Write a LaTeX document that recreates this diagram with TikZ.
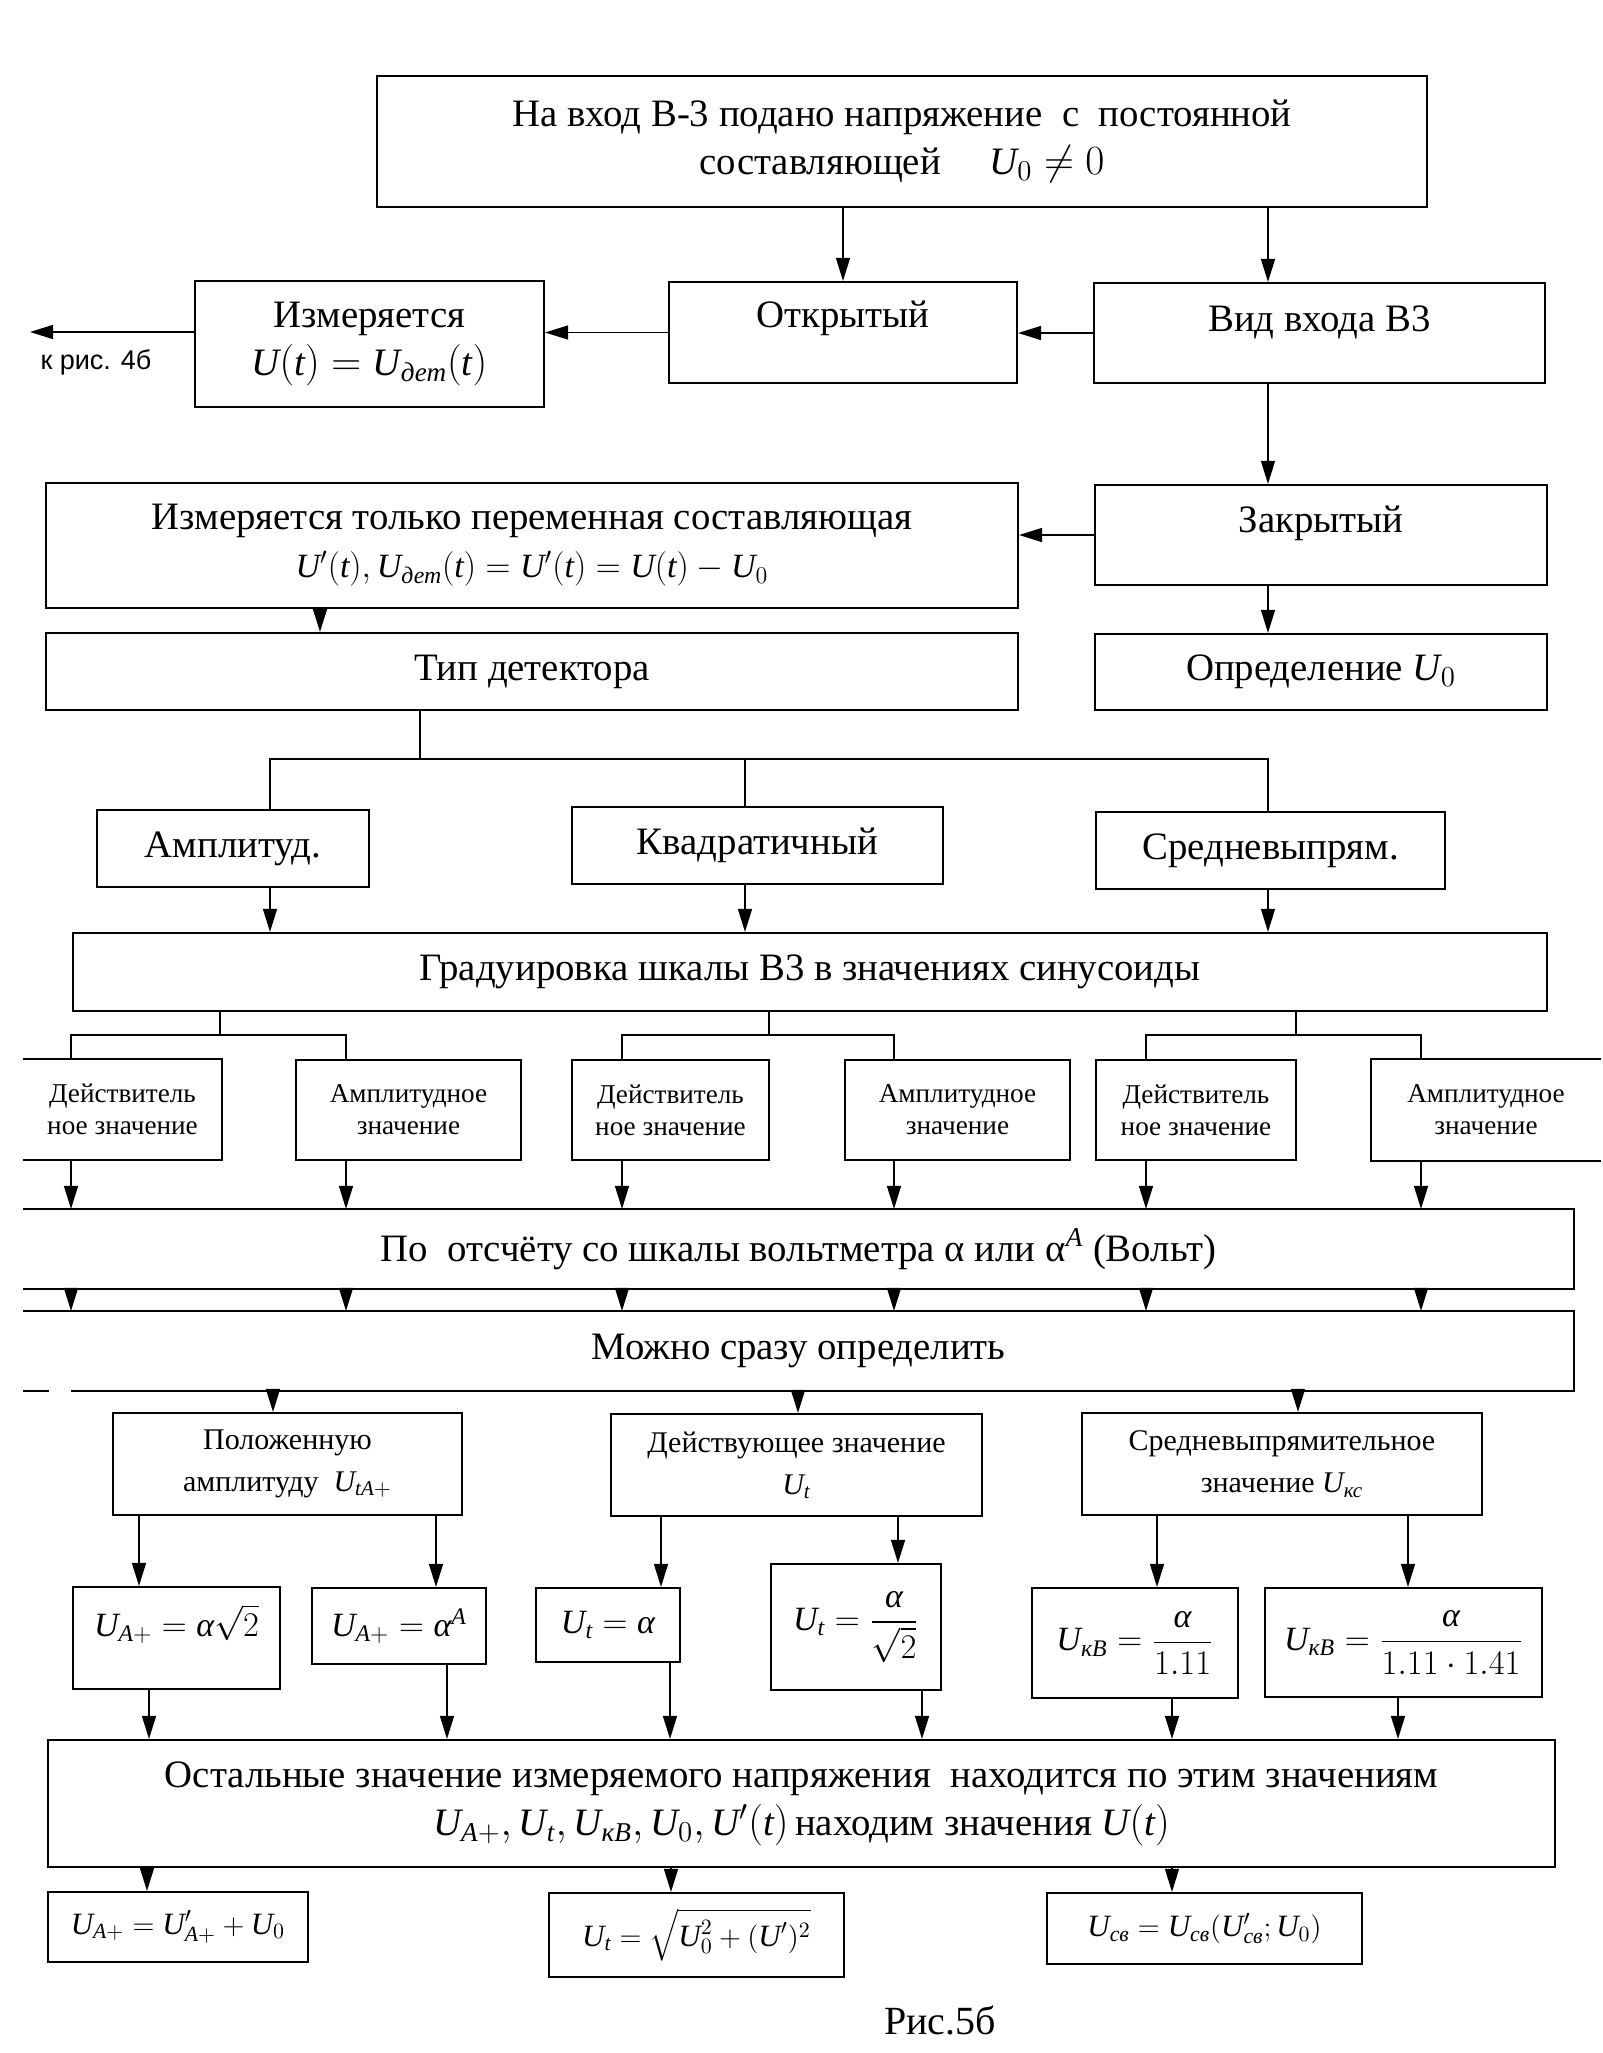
\documentclass[tikz,border=0pt]{standalone}
\usepackage{amsmath}
\usepackage{fontspec}
\setmainfont{Liberation Serif}
\setsansfont{Liberation Sans}
\usetikzlibrary{arrows.meta}
\newcommand\mi[1]{\text{\itshape #1}}
\newcommand\fbig{\fontsize{19.4}{24}\selectfont}
\newcommand\fmid{\fontsize{15}{21}\selectfont}
\newcommand\fsm{\fontsize{13.6}{16}\selectfont}
\newcommand\ffml{\fontsize{17}{21}\selectfont}
\newcommand\fbot{\fontsize{15.5}{19}\selectfont}
\newcommand\bxn[7][]{\node[box,#1,minimum width={(#5-#3)*0.5pt},minimum height={(#6-#4)*0.5pt}] (#2) at ({(#3+#5)/2},{(#4+#6)/2}) {#7};}
\begin{document}
\begin{tikzpicture}[x=0.5pt,y=-0.5pt,
  box/.style={draw,line width=1.1pt,inner sep=1pt,align=center,font=\fbig},
  arr/.style={line width=0.75pt,-{Triangle[length=11.5pt,width=7pt]}},
  ln/.style={line width=0.75pt},
  bord/.style={line width=1.1pt},
  tup/.style={text height=13pt,text depth=#1},
  nobox/.style={draw=none},
  fml/.style={font=\ffml},
  bot/.style={font=\fbot},
  small/.style={font=\fsm},
  mid/.style={font=\fmid}]
\fill[white] (0,0) rectangle (1594,2053);
% --- top part
\bxn{top}{377}{76}{1427}{207}{На вход В-3 подано напряжение \ с \ постоянной\\составляющей \quad $\mi{U}_0\neq 0$}
\bxn{izm}{195}{281}{544}{407}{Измеряется\\$\mi{U}(\mi{t})=\mi{U}_{\mi{дет}}(\mi{t})$}
\bxn[tup=18pt]{otkr}{669}{282}{1017}{383}{Открытый}
\bxn[tup=15pt]{vid}{1094}{283}{1545}{383}{Вид входа В3}
\bxn{only}{46}{483}{1018}{608}{Измеряется только переменная составляющая\\{\fontsize{17}{22}\selectfont$\mi{U}'(\mi{t}),\mi{U}_{\mi{дет}}(\mi{t})=\mi{U}'(\mi{t})=\mi{U}(\mi{t})-\mi{U}_0$}}
\bxn[tup=16pt]{zakr}{1095}{485}{1547}{585}{Закрытый}
\bxn{tip}{46}{633}{1018}{710}{Тип детектора}
\bxn{opr}{1095}{634}{1547}{710}{Определение $\mi{U}_0$}
\node[font=\sffamily\fontsize{13.5}{15}\selectfont] (kris) at (96,362) {к рис. 4б};
\coordinate (kr) at (30,332);
% detectors
\bxn{amp}{97}{810}{369}{887}{Амплитуд.}
\bxn{kv}{572}{807}{943}{884}{Квадратичный}
\bxn{sr}{1096}{812}{1445}{889}{Средневыпрям.}
\bxn{grad}{73}{933}{1547}{1011}{Градуировка шкалы В3 в значениях синусоиды}
% six boxes
\bxn[small,nobox]{b1}{24}{1060}{221}{1159}{Действитель\\ное значение}
\bxn[small]{b2}{296}{1060}{521}{1160}{Амплитудное\\значение}
\bxn[small]{b3}{572}{1060}{769}{1160}{Действитель\\ное значение}
\bxn[small]{b4}{845}{1060}{1070}{1160}{Амплитудное\\значение}
\bxn[small]{b5}{1096}{1060}{1296}{1160}{Действитель\\ное значение}
\bxn[small,nobox]{b6}{1372}{1060}{1600}{1160}{Амплитудное\\значение}
\draw[bord] (b1.north west) -- (b1.north east) -- (b1.south east) -- (b1.south west);
\draw[bord] (b6.north east) -- (b6.north west) -- (b6.south west) -- (b6.south east);
\bxn[nobox]{po}{24}{1210}{1573}{1288}{По \ отсчёту со шкалы вольтметра α или α$^{\mi{A}}$ (Вольт)}
\bxn[nobox]{mz}{24}{1312}{1573}{1390}{Можно сразу определить}
\draw[bord] (po.north west) -- (po.north east) -- (po.south east) -- (po.south west);
\draw[bord] (mz.north west) -- (mz.north east) -- (mz.south east) -- ([xshift=24pt]mz.south west);
\draw[bord] (mz.south west) -- ([xshift=13pt]mz.south west);
% three values
\bxn[mid]{pol}{113}{1413}{462}{1515}{Положенную\\амплитуду \ $\mi{U}_{\mi{tA}+}$}
\bxn[mid]{dei}{611}{1414}{982}{1516}{Действующее значение\\$\mi{U}_{\mi{t}}$}
\bxn[mid]{srv}{1082}{1413}{1482}{1515}{Средневыпрямительное\\значение $\mi{U}_{\mi{кс}}$}
% formulas
\bxn[fml,tup=15pt]{f1}{73}{1587}{280}{1689}{$\mi{U}_{\mi{A}+}=\mi{α}\sqrt{2}$}
\bxn[fml]{f2}{312}{1588}{486}{1664}{$\mi{U}_{\mi{A}+}=\mi{α}^{\mi{A}}$}
\bxn[fml]{f3}{536}{1588}{680}{1662}{$\mi{U}_{\mi{t}}=\mi{α}$}
\bxn[fml]{f4}{771}{1564}{941}{1690}{$\mi{U}_{\mi{t}}=\dfrac{\mi{α}}{\sqrt{2}}$}
\bxn[fml]{f5}{1032}{1588}{1238}{1698}{$\mi{U}_{\mi{кВ}}=\dfrac{\mi{α}}{1.11}$}
\bxn[fml]{f6}{1265}{1588}{1542}{1697}{$\mi{U}_{\mi{кВ}}=\dfrac{\mi{α}}{1.11\cdot 1.41}$}
\bxn{ost}{48}{1740}{1555}{1867}{Остальные значение измеряемого напряжения \ находится по этим значениям\\$\mi{U}_{\mi{A}+},\mi{U}_{\mi{t}},\mi{U}_{\mi{кВ}},\mi{U}_0,\mi{U}'(\mi{t})$\,находим значения $\mi{U}(\mi{t})$}
\bxn[bot]{g1}{48}{1892}{308}{1962}{$\mi{U}_{\mi{A}+}=\mi{U}'_{\mi{A}+}+\mi{U}_0$}
\bxn[bot]{g2}{549}{1893}{844}{1977}{$\mi{U}_{\mi{t}}=\sqrt{\mi{U}_0^2+(\mi{U}')^2}$}
\bxn[bot]{g3}{1047}{1893}{1362}{1964}{$\mi{U}_{\mi{св}}=\mi{U}_{\mi{св}}(\mi{U}'_{\mi{св}};\mi{U}_0)$}
\node[font=\fontsize{20}{24}\selectfont] (fig) at (940,2020) {Рис.5б};
% --- connectors, top
\draw[arr] (top.south -| otkr.north) -- (otkr.north);
\draw[arr] (top.south -| 1268,0) -- (vid.north -| 1268,0);
\draw[arr] (vid.west) -- (otkr.east |- vid.west);
\draw[arr] (otkr.west) -- (izm.east |- otkr.west);
\draw[arr] (izm.west |- kr) -- (kr);
\draw[arr] (vid.south -| 1268,0) -- (zakr.north -| 1268,0);
\draw[arr] (zakr.west) -- (only.east |- zakr.west);
\draw[arr] (zakr.south -| 1268,0) -- (opr.north -| 1268,0);
\draw[arr] (only.south -| 320,0) -- (tip.north -| 320,0);
% detector tree
\coordinate (j1) at (420,759);
\coordinate (h1l) at (270,759);
\coordinate (h1m) at (745,759);
\coordinate (h1r) at (1268,759);
\draw[ln] (tip.south -| j1) -- (j1);
\draw[ln] (amp.north -| h1l) -- (h1l) -- (h1r) -- (sr.north -| h1r);
\draw[ln] (h1m) -- (kv.north -| h1m);
\draw[arr] (amp.south -| h1l) -- (grad.north -| h1l);
\draw[arr] (kv.south -| h1m) -- (grad.north -| h1m);
\draw[arr] (sr.south -| h1r) -- (grad.north -| h1r);
% graduation tree
\coordinate (s1) at (220,1035); \coordinate (l1) at (71,1035); \coordinate (r1) at (346,1035);
\coordinate (s2) at (769,1035); \coordinate (l2) at (622,1035); \coordinate (r2) at (894,1035);
\coordinate (s3) at (1296,1035); \coordinate (l3) at (1146,1035); \coordinate (r3) at (1421,1035);
\draw[ln] (grad.south -| s1) -- (s1);
\draw[ln] (grad.south -| s2) -- (s2);
\draw[ln] (grad.south -| s3) -- (s3);
\draw[ln] (b1.north -| l1) -- (l1) -- (r1) -- (b2.north -| r1);
\draw[ln] (b3.north -| l2) -- (l2) -- (r2) -- (b4.north -| r2);
\draw[ln] (b5.north -| l3) -- (l3) -- (r3) -- (b6.north -| r3);
\draw[arr] (b1.south -| l1) -- (po.north -| l1);
\draw[arr] (b2.south -| r1) -- (po.north -| r1);
\draw[arr] (b3.south -| l2) -- (po.north -| l2);
\draw[arr] (b4.south -| r2) -- (po.north -| r2);
\draw[arr] (b5.south -| l3) -- (po.north -| l3);
\draw[arr] (b6.south -| r3) -- (po.north -| r3);
\foreach \c in {l1,r1,l2,r2,l3,r3} {\draw[arr] (po.south -| \c) -- (mz.north -| \c);}
% values
\draw[arr] (mz.south -| 273,0) -- (pol.north -| 273,0);
\draw[arr] (mz.south -| 798,0) -- (dei.north -| 798,0);
\draw[arr] (mz.south -| 1298,0) -- (srv.north -| 1298,0);
\draw[arr] (pol.south -| 139,0) -- (f1.north -| 139,0);
\draw[arr] (pol.south -| 436,0) -- (f2.north -| 436,0);
\draw[arr] (dei.south -| 661,0) -- (f3.north -| 661,0);
\draw[arr] (dei.south -| 898,0) -- (f4.north -| 898,0);
\draw[arr] (srv.south -| 1157,0) -- (f5.north -| 1157,0);
\draw[arr] (srv.south -| 1408,0) -- (f6.north -| 1408,0);
\draw[arr] (f1.south -| 149,0) -- (ost.north -| 149,0);
\draw[arr] (f2.south -| 447,0) -- (ost.north -| 447,0);
\draw[arr] (f3.south -| 670,0) -- (ost.north -| 670,0);
\draw[arr] (f4.south -| 922,0) -- (ost.north -| 922,0);
\draw[arr] (f5.south -| 1172,0) -- (ost.north -| 1172,0);
\draw[arr] (f6.south -| 1398,0) -- (ost.north -| 1398,0);
\draw[arr] (ost.south -| 147,0) -- (g1.north -| 147,0);
\draw[arr] (ost.south -| 671,0) -- (g2.north -| 671,0);
\draw[arr] (ost.south -| 1172,0) -- (g3.north -| 1172,0);
\end{tikzpicture}
\end{document}
